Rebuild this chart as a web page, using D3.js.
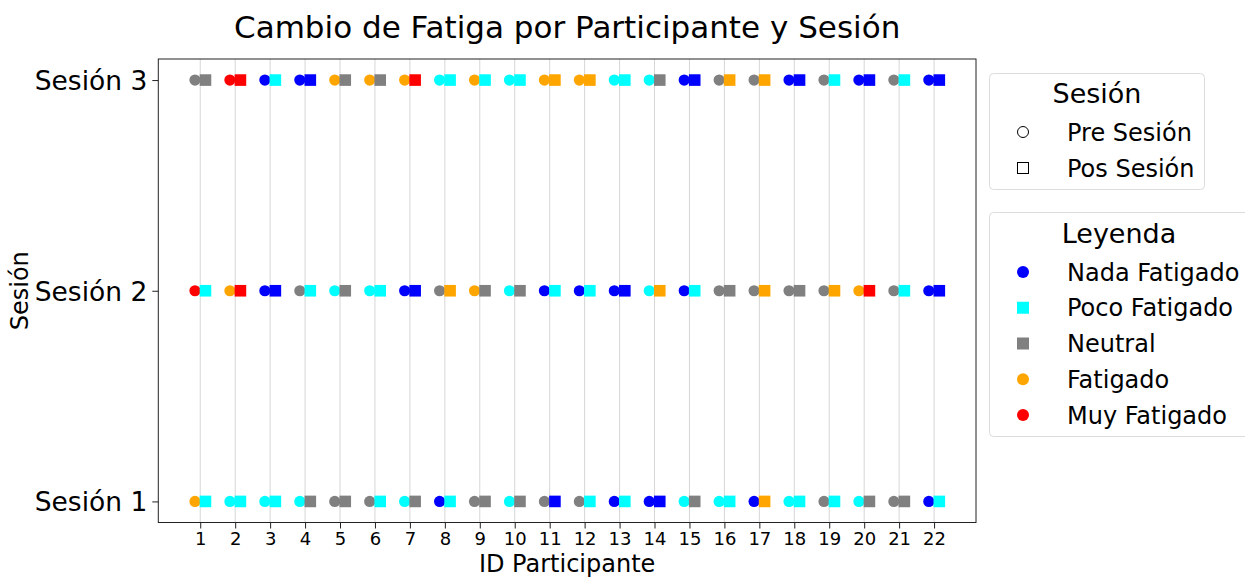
<!DOCTYPE html>
<html>
<head>
<meta charset="utf-8">
<script src="https://cdn.jsdelivr.net/npm/d3@7"></script>
<style>
  body { margin: 0; background: #fff; }
  text { font-family: "DejaVu Sans", sans-serif; fill: #000; }
</style>
</head>
<body>
<script>
// participants and sessions
const participants = d3.range(1, 23);
const sessions = ["Sesión 1", "Sesión 2", "Sesión 3"];

// fatigue level per participant (N=Nada, P=Poco, G=Neutral, F=Fatigado, M=Muy)
const s1Pre  = ["F","P","P","P","G","G","P","N","G","P","G","G","N","N","P","P","N","P","G","P","G","N"];
const s1Post = ["P","P","P","G","G","P","G","P","G","G","N","P","P","N","G","P","F","P","P","G","G","P"];
const s2Pre  = ["M","F","N","G","P","P","N","G","F","P","N","N","N","P","N","G","G","G","G","F","G","N"];
const s2Post = ["P","M","N","P","G","P","N","F","G","G","P","P","N","F","P","G","F","G","F","M","P","N"];
const s3Pre  = ["G","M","N","N","F","F","F","P","F","P","F","F","P","P","N","G","G","N","G","N","G","N"];
const s3Post = ["G","M","P","N","G","G","M","P","P","P","F","F","P","G","N","F","F","N","P","N","P","N"];

const levels = ["N","P","G","F","M"];
const levelNames = ["Nada Fatigado","Poco Fatigado","Neutral","Fatigado","Muy Fatigado"];
const levelColors = ["#0000ff","#00ffff","#808080","#ffa500","#ff0000"];
const legendShapes = ["circle","square","square","circle","circle"];

const preBySession = [s1Pre, s2Pre, s3Pre];
const postBySession = [s1Post, s2Post, s3Post];

const width = 1245, height = 578;
const svg = d3.select("body").append("svg")
    .attr("width", width)
    .attr("height", height);

const plot = { left: 158.3, right: 976, top: 59, bottom: 522.5 };

const x = d3.scaleLinear().domain([-0.2, 23.2]).range([plot.left, plot.right]);
const y = d3.scaleLinear().domain([0.9, 3.1]).range([plot.bottom, plot.top]);
const color = d3.scaleOrdinal().domain(levels).range(levelColors);

//grid lines
svg.append("g")
  .selectAll("line")
  .data(participants)
  .join("line")
    .attr("x1", d => x(d)).attr("x2", d => x(d))
    .attr("y1", plot.top).attr("y2", plot.bottom)
    .attr("stroke", "#d6d6d6")
    .attr("stroke-width", 1);

//points: pre as circles, post as squares
const offset = 0.15;
const r = 5.6, side = 11.6;
let points = [];
sessions.forEach((s, si) => {
  participants.forEach((p, pi) => {
    points.push({p: p, s: si + 1, pre: preBySession[si][pi], post: postBySession[si][pi]});
  });
});

svg.append("g")
  .selectAll("circle")
  .data(points)
  .join("circle")
    .attr("cx", d => x(d.p - offset))
    .attr("cy", d => y(d.s))
    .attr("r", r)
    .attr("fill", d => color(d.pre));

svg.append("g")
  .selectAll("rect")
  .data(points)
  .join("rect")
    .attr("x", d => x(d.p + offset) - side / 2)
    .attr("y", d => y(d.s) - side / 2)
    .attr("width", side)
    .attr("height", side)
    .attr("fill", d => color(d.post));

//frame
svg.append("rect")
  .attr("x", plot.left).attr("y", plot.top)
  .attr("width", plot.right - plot.left)
  .attr("height", plot.bottom - plot.top)
  .attr("fill", "none")
  .attr("stroke", "#222")
  .attr("stroke-width", 1);

//axes
const xAxis = svg.append("g")
  .attr("transform", `translate(0,${plot.bottom})`)
  .call(d3.axisBottom(x).tickValues(participants).tickFormat(d3.format("d")).tickSize(6).tickPadding(4));
xAxis.select(".domain").remove();
xAxis.selectAll("text").style("font-size", "18px").style("font-family", "DejaVu Sans");
xAxis.selectAll("line").attr("stroke", "#222");

const yAxis = svg.append("g")
  .attr("transform", `translate(${plot.left},0)`)
  .call(d3.axisLeft(y).tickValues([1, 2, 3]).tickFormat(d => sessions[d - 1]).tickSize(6).tickPadding(5));
yAxis.select(".domain").remove();
yAxis.selectAll("text").style("font-size", "26.5px").style("font-family", "DejaVu Sans").attr("dy", "0.36em");
yAxis.selectAll("line").attr("stroke", "#222");

//labels
svg.append("text")
  .attr("x", (plot.left + plot.right) / 2)
  .attr("y", 38)
  .attr("text-anchor", "middle")
  .style("font-size", "31px")
  .text("Cambio de Fatiga por Participante y Sesión");

svg.append("text")
  .attr("x", (plot.left + plot.right) / 2)
  .attr("y", 572)
  .attr("text-anchor", "middle")
  .style("font-size", "24px")
  .text("ID Participante");

svg.append("text")
  .attr("transform", `translate(28,${(plot.top + plot.bottom) / 2}) rotate(-90)`)
  .attr("text-anchor", "middle")
  .style("font-size", "24px")
  .text("Sesión");

//legend 1: shapes
const lx = 1023, tx = 1067;
const leg1 = svg.append("g");
leg1.append("rect")
  .attr("x", 989.5).attr("y", 73.5).attr("width", 215).attr("height", 116)
  .attr("rx", 4).attr("fill", "#fff").attr("stroke", "#dcdcdc");
leg1.append("text").attr("x", 1097).attr("y", 103).attr("text-anchor", "middle")
  .style("font-size", "27px").text("Sesión");
leg1.append("circle").attr("cx", lx).attr("cy", 132).attr("r", 5.5)
  .attr("fill", "none").attr("stroke", "#000").attr("stroke-width", 1);
leg1.append("rect").attr("x", lx - 5.5).attr("y", 168 - 5.5).attr("width", 11).attr("height", 11)
  .attr("fill", "none").attr("stroke", "#000").attr("stroke-width", 1);
leg1.append("text").attr("x", tx).attr("y", 132).attr("dy", "0.36em")
  .style("font-size", "24px").text("Pre Sesión");
leg1.append("text").attr("x", tx).attr("y", 168).attr("dy", "0.36em")
  .style("font-size", "24px").text("Pos Sesión");

//legend 2: fatigue levels
const leg2 = svg.append("g");
leg2.append("rect")
  .attr("x", 989.5).attr("y", 212.5).attr("width", 270).attr("height", 224)
  .attr("rx", 4).attr("fill", "#fff").attr("stroke", "#dcdcdc");
leg2.append("text").attr("x", 1119).attr("y", 243).attr("text-anchor", "middle")
  .style("font-size", "27px").text("Leyenda");

const ly = d3.scaleLinear().domain([0, 4]).range([272, 415]);
levels.forEach((lv, i) => {
  if (legendShapes[i] === "circle") {
    leg2.append("circle").attr("cx", lx).attr("cy", ly(i)).attr("r", 6).attr("fill", color(lv));
  } else {
    leg2.append("rect").attr("x", lx - 6).attr("y", ly(i) - 6).attr("width", 12).attr("height", 12)
      .attr("fill", color(lv));
  }
  leg2.append("text").attr("x", tx).attr("y", ly(i)).attr("dy", "0.36em")
    .style("font-size", "24px").text(levelNames[i]);
});
</script>
</body>
</html>
